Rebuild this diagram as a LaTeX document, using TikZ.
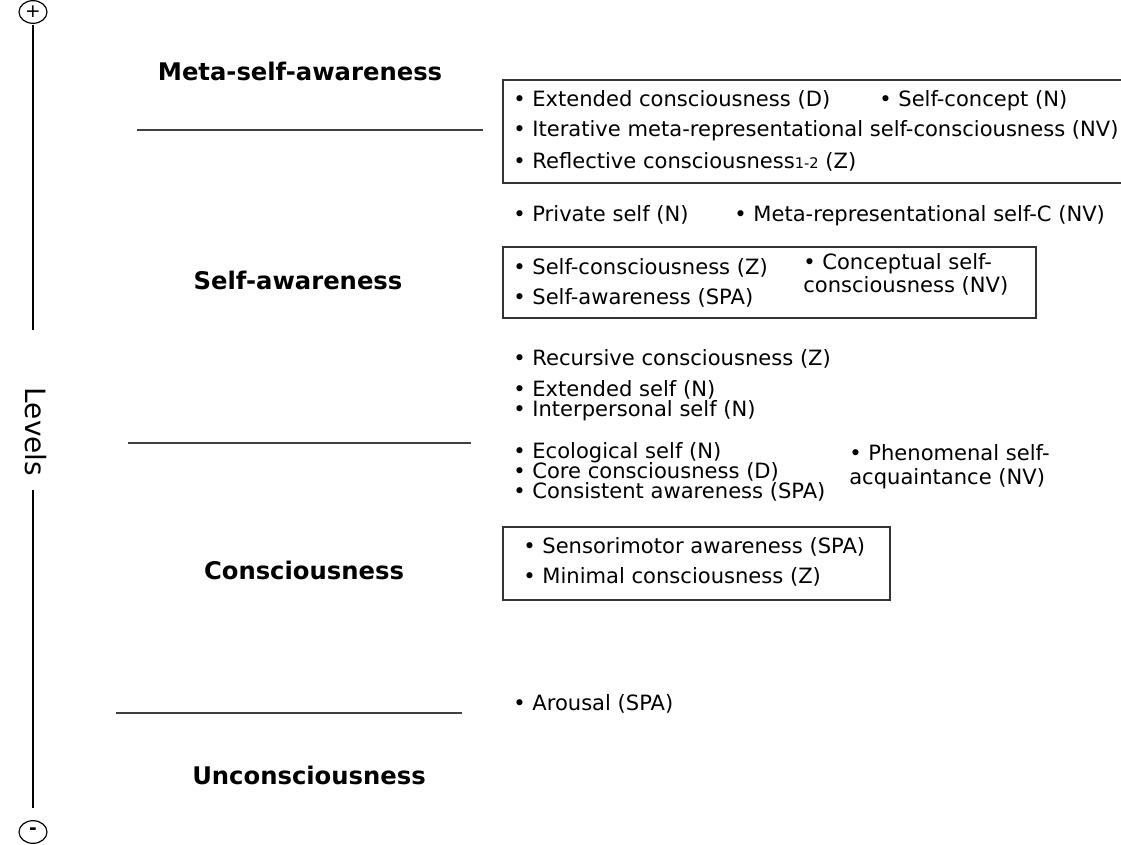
\documentclass[tikz,border=0pt]{standalone}
\usepackage{fontspec}
\setmainfont{DejaVu Sans}
\usetikzlibrary{shapes.geometric}
\begin{document}
\begin{tikzpicture}[x=0.75pt,y=-0.75pt,
  item/.style={anchor=base west, inner sep=0pt, font=\fontsize{15.8pt}{18pt}\selectfont},
  head/.style={anchor=base, inner sep=0pt, font=\fontsize{18.2pt}{21pt}\selectfont\bfseries},
  sepline/.style={line width=1.5pt, draw=black!75},
  framebox/.style={line width=1.1pt, draw=black!80},
  axis/.style={line width=1.1pt, draw=black},
  sign/.style={draw, ellipse, line width=0.9pt, minimum width=21pt, minimum height=17pt, inner sep=0pt, font=\fontsize{14pt}{14pt}\selectfont}]
\useasboundingbox (0,0) rectangle (1121,845);

% axis
\node[sign] (plus) at (33,12) {+};
\node[sign] (minus) at (33,832) {\raisebox{1pt}{\textbf{-}}};
\node[rotate=-90, inner sep=0pt, font=\fontsize{21pt}{24pt}\selectfont] (lev) at (36,432) {Levels};
\coordinate (a1) at (33,25);
\coordinate (a2) at (33,330);
\coordinate (a3) at (33,490);
\coordinate (a4) at (33,808);
\draw[axis] (a1) -- (a2);
\draw[axis] (a3) -- (a4);

% headings
\node[head] (h1) at (300,81) {Meta-self-awareness};
\node[head] (h2) at (298,289) {Self-awareness};
\node[head] (h3) at (304,579) {Consciousness};
\node[head] (h4) at (309,784) {Unconsciousness};

% separators
\coordinate (s1a) at (137,130); \coordinate (s1b) at (483,130);
\coordinate (s2a) at (128,443); \coordinate (s2b) at (471,443);
\coordinate (s3a) at (116,713); \coordinate (s3b) at (462,713);
\draw[sepline] (s1a) -- (s1b);
\draw[sepline] (s2a) -- (s2b);
\draw[sepline] (s3a) -- (s3b);

% boxes
\draw[framebox] (503,80) rectangle (1130,183);
\draw[framebox] (503,247) rectangle (1036,318);
\draw[framebox] (503,527) rectangle (890,600);

% box 1
\node[item] (t1) at (513,107) {• Extended consciousness (D)};
\node[item] (t2) at (879,107) {• Self-concept (N)};
\node[item] (t3) at (513,137) {• Iterative meta-representational self-consciousness (NV)};
\node[item] (t4) at (513,169) {• Reflective consciousness{\fontsize{11pt}{11pt}\selectfont 1-2} (Z)};

% between
\node[item] (t5) at (513,222) {• Private self (N)};
\node[item] (t6) at (734,222) {• Meta-representational self-C (NV)};

% box 2
\node[item] (t7) at (513,274) {• Self-consciousness (Z)};
\node[item] (t8) at (513,304) {• Self-awareness (SPA)};
\node[item] (t9) at (803,269) {• Conceptual self-};
\node[item] (t10) at (803,292) {consciousness (NV)};

% middle
\node[item] (t11) at (513,365) {• Recursive consciousness (Z)};
\node[item] (t12) at (513,396) {• Extended self (N)};
\node[item] (t13) at (513,416) {• Interpersonal self (N)};
\node[item] (t14) at (513,458) {• Ecological self (N)};
\node[item] (t15) at (513,478) {• Core consciousness (D)};
\node[item] (t16) at (513,498) {• Consistent awareness (SPA)};
\node[item] (t17) at (849,460) {• Phenomenal self-};
\node[item] (t18) at (849,484) {acquaintance (NV)};

% box 3
\node[item] (t19) at (523,553) {• Sensorimotor awareness (SPA)};
\node[item] (t20) at (523,583) {• Minimal consciousness (Z)};

% bottom
\node[item] (t21) at (513,710) {• Arousal (SPA)};
\end{tikzpicture}
\end{document}
